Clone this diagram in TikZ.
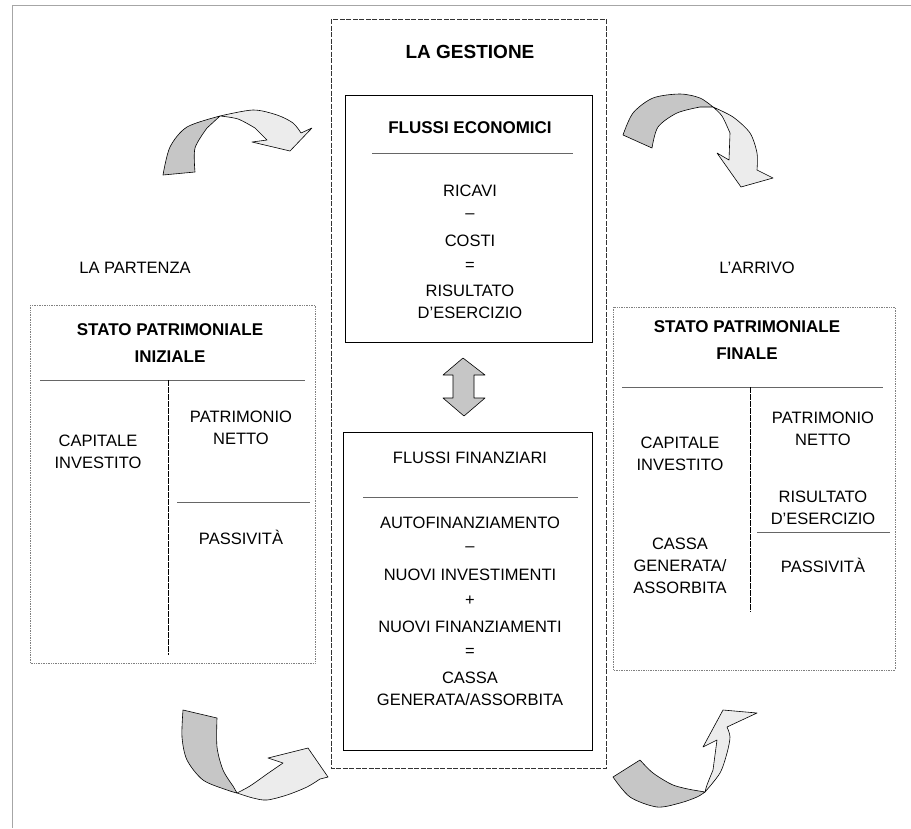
\documentclass[tikz,border=0pt]{standalone}
\usepackage{fontspec}
\setmainfont{Liberation Sans}

\tikzset{
  txt/.style={inner sep=0pt, align=center, font=\fontsize{16.5}{22}\selectfont},
  hd/.style={inner sep=0pt, align=center, font=\bfseries\fontsize{17}{27}\selectfont},
  frameline/.style={gray!70, line width=0.6pt},
  sidebox/.style={gray, densely dotted, line width=0.7pt},
  mainbox/.style={black!80, dash pattern=on 5pt off 1.5pt, line width=0.9pt},
  innerbox/.style={black, line width=0.6pt},
  rule/.style={gray!80!black, line width=1pt},
  divider/.style={black, line width=0.5pt, dash pattern=on 6pt off 1pt},
  ribdark/.style={draw=black, line width=0.6pt, line join=round, fill=gray!45},
  riblight/.style={draw=black, line width=0.6pt, line join=round, fill=gray!15},
}

\begin{document}
\begin{tikzpicture}[x=1pt, y=-1pt]
    \useasboundingbox[fill=white] (0,0) rectangle (911,828);
    \draw[frameline] (12,828) -- (12,5) -- (911,5);

    % la gestione
    \draw[mainbox] (331,19) rectangle (606,768);
    \node[hd, font=\bfseries\fontsize{19}{24}\selectfont] (gestione) at (470,52) {LA GESTIONE};

    \draw[innerbox] (345,95) rectangle (592,342);
    \node[hd] (economici) at (470,128) {FLUSSI ECONOMICI};
    \draw[rule] (372,153) -- (573,153);
    \node[txt] (ricavi) at (470,191) {RICAVI};
    \node[txt] (meno1) at (470,216) {--};
    \node[txt] (costi) at (470,241) {COSTI};
    \node[txt] (uguale1) at (470,266) {=};
    \node[txt] (risultato) at (470,302) {RISULTATO\\D'ESERCIZIO};

    \filldraw[ribdark] (463,358) -- (485,375) -- (474,375) -- (474,398) -- (485,398)
        -- (464,416) -- (443,398) -- (453,398) -- (453,375) -- (443,375) -- cycle;

    \draw[innerbox] (343,432) rectangle (592,750);
    \node[txt] (finanziari) at (470,458) {FLUSSI FINANZIARI};
    \draw[rule] (363,497) -- (578,497);
    \node[txt] (autofin) at (470,523) {AUTOFINANZIAMENTO};
    \node[txt] (meno2) at (470,549) {--};
    \node[txt] (investimenti) at (470,575) {NUOVI INVESTIMENTI};
    \node[txt] (piu) at (470,601) {+};
    \node[txt] (finanziamenti) at (470,627) {NUOVI FINANZIAMENTI};
    \node[txt] (uguale2) at (470,652) {=};
    \node[txt] (cassa) at (470,689) {CASSA\\GENERATA/ASSORBITA};

    % la partenza
    \node[txt] (partenza) at (135,268) {LA PARTENZA};
    \draw[sidebox] (30,305) rectangle (315,663);
    \node[hd] (spi) at (170,343) {STATO PATRIMONIALE\\INIZIALE};
    \draw[rule] (40,380) -- (305,380);
    \draw[divider] (168,380) -- (168,655);
    \draw[rule] (177,502) -- (310,502);
    \node[txt] (capi) at (98,452) {CAPITALE\\INVESTITO};
    \node[txt] (pni) at (241,428) {PATRIMONIO\\NETTO};
    \node[txt] (passi) at (241,537) {PASSIVITÀ};

    % l'arrivo
    \node[txt] (arrivo) at (757,268) {L'ARRIVO};
    \draw[sidebox] (613,307) rectangle (895,670);
    \node[hd] (spf) at (747,340) {STATO PATRIMONIALE\\FINALE};
    \draw[rule] (622,387) -- (883,387);
    \draw[divider] (750,387) -- (750,612);
    \draw[rule] (757,532) -- (890,532);
    \node[txt] (capf) at (680,454) {CAPITALE\\INVESTITO};
    \node[txt] (cassaf) at (680,566) {CASSA\\GENERATA/\\ASSORBITA};
    \node[txt] (pnf) at (823,429) {PATRIMONIO\\NETTO};
    \node[txt] (risf) at (823,508) {RISULTATO\\D'ESERCIZIO};
    \node[txt] (passf) at (823,565) {PASSIVITÀ};

    % frecce curve
    \filldraw[ribdark] plot[smooth] coordinates {(163,175) (170,147) (187,127) (220,116)}
        -- plot[smooth] coordinates {(207,128) (195,148) (195,172)} -- cycle;
    \filldraw[riblight] plot[smooth] coordinates {(220,116) (253,110) (277,115) (293,123) (301,133)}
        -- (312,128) -- (290,151) -- (252,142) -- (267,140)
        -- plot[smooth] coordinates {(255,128) (238,119) (220,116)} -- cycle;

    \filldraw[ribdark] plot[smooth] coordinates {(623,135) (633,113) (653,98) (680,94) (700,98) (713,107)}
        -- plot[smooth] coordinates {(700,107) (677,113) (658,127) (652,148)} -- cycle;
    \filldraw[riblight] plot[smooth] coordinates {(713,107) (733,117) (750,133) (757,153) (757,170)}
        -- (773,178) -- (741,187) -- (717,153) -- (729,160)
        -- plot[smooth] coordinates {(730,133) (722,116) (713,107)} -- cycle;

    \filldraw[ribdark] plot[smooth] coordinates {(183,710) (182,737) (187,760) (203,780) (227,790) (237,793)}
        -- plot[smooth] coordinates {(233,786) (223,770) (217,747) (217,718)} -- cycle;
    \filldraw[riblight] plot[smooth] coordinates {(237,793) (253,798) (267,800) (287,795) (307,787) (320,779)}
        -- (328,777) -- (308,748) -- (268,758) -- (283,763)
        -- plot[smooth] coordinates {(267,774) (250,786) (237,793)} -- cycle;

    \filldraw[ribdark] plot[smooth] coordinates {(613,777) (630,797) (657,807) (680,803) (697,797) (705,792)}
        -- plot[smooth] coordinates {(693,790) (673,785) (653,773) (640,760)} -- cycle;
    \filldraw[riblight] plot[smooth] coordinates {(705,792) (720,773) (727,753) (730,737) (727,727)}
        -- (757,713) -- (723,710) -- (703,747) -- (717,740)
        -- plot[smooth] coordinates {(713,770) (707,785) (705,792)} -- cycle;
\end{tikzpicture}
\end{document}
